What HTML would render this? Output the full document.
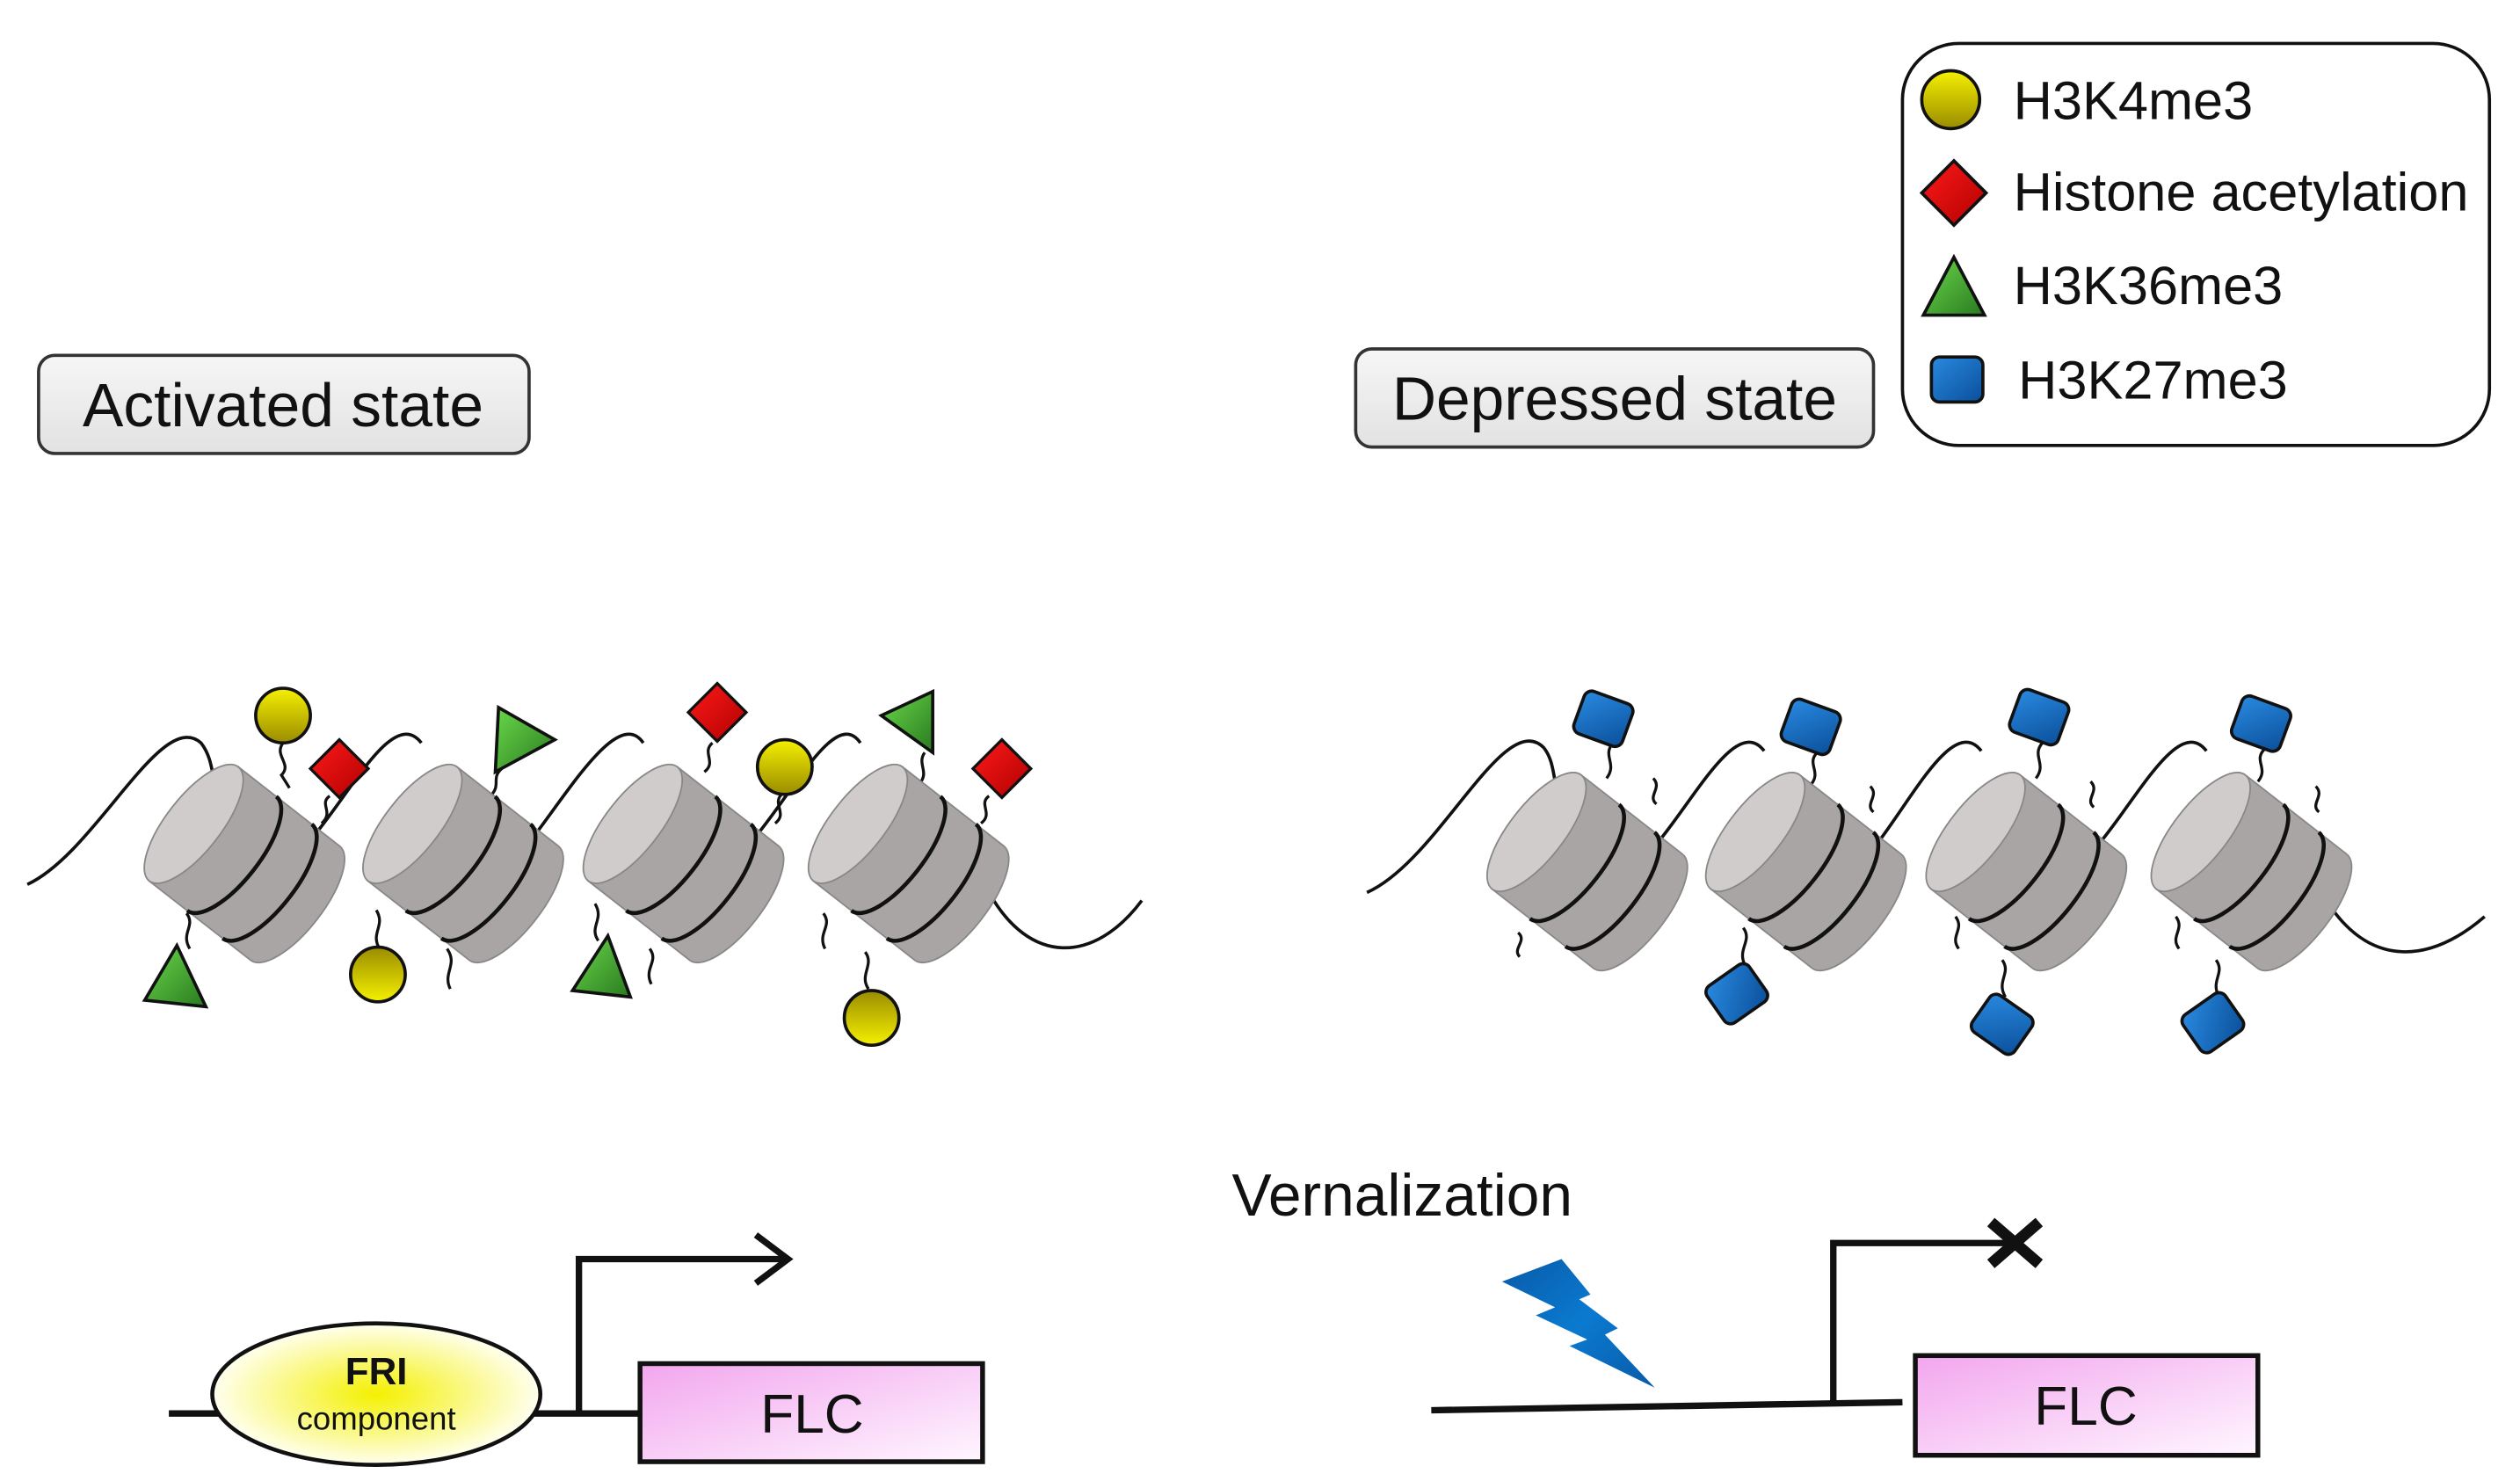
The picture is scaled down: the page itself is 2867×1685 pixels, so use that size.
<!DOCTYPE html>
<html><head><meta charset="utf-8"><style>html,body{margin:0;padding:0;background:#fff}svg{display:block}</style></head><body>
<svg width="2867" height="1685" viewBox="0 0 1567 921" preserveAspectRatio="none" xmlns="http://www.w3.org/2000/svg" font-family="Liberation Sans, Arial, sans-serif">
<defs>
<linearGradient id="lab" x1="0" y1="0" x2="0" y2="1"><stop offset="0" stop-color="#f6f6f6"/><stop offset="1" stop-color="#e2e2e2"/></linearGradient>
<linearGradient id="yel" x1="0" y1="0" x2="0" y2="1"><stop offset="0" stop-color="#f5f000"/><stop offset="1" stop-color="#9a8c00"/></linearGradient>
<linearGradient id="yel2" x1="0" y1="1" x2="0" y2="0"><stop offset="0" stop-color="#f5f000"/><stop offset="1" stop-color="#9a8c00"/></linearGradient>
<linearGradient id="red" x1="0" y1="0" x2="1" y2="1"><stop offset="0" stop-color="#ff1a1a"/><stop offset="1" stop-color="#b00000"/></linearGradient>
<linearGradient id="grn" x1="0" y1="0" x2="1" y2="1"><stop offset="0" stop-color="#6ad84a"/><stop offset="1" stop-color="#2a7a20"/></linearGradient>
<linearGradient id="blu" x1="0" y1="0" x2="1" y2="1"><stop offset="0" stop-color="#2a8ae0"/><stop offset="1" stop-color="#0a4f9a"/></linearGradient>
<radialGradient id="fri" cx="0.5" cy="0.5" r="0.5"><stop offset="0" stop-color="#f4f000"/><stop offset="1" stop-color="#fffff0"/></radialGradient>
<linearGradient id="flc" x1="0" y1="0" x2="1" y2="1"><stop offset="0" stop-color="#f2a6ee"/><stop offset="1" stop-color="#fff6ff"/></linearGradient>
<linearGradient id="bolt" x1="0" y1="0" x2="1" y2="1"><stop offset="0" stop-color="#0a5aa8"/><stop offset="0.5" stop-color="#0a7ad0"/><stop offset="1" stop-color="#0a5aa8"/></linearGradient>
<g id="cyl">
<path d="M-40,-45 L40,-45 A17 45 0 0 1 40,45 L-40,45 Z" fill="#aaa5a5" stroke="#888" stroke-width="1"/>
<ellipse cx="-40" cy="0" rx="17" ry="45" fill="#d0cccc" stroke="#888" stroke-width="1"/>
<path d="M-10,-45 A17 45 0 0 1 -10,45" fill="none" stroke="#111" stroke-width="2.5"/>
<path d="M18,-45 A17 45 0 0 1 18,45" fill="none" stroke="#111" stroke-width="2.5"/>
</g>
<rect id="bsq" x="-16" y="-14" width="32" height="28" rx="5" fill="url(#blu)" stroke="#111" stroke-width="2"/>
<path id="dia" d="M0,-20 L20,0 L0,20 L-20,0 Z" fill="url(#red)" stroke="#111" stroke-width="2"/>
</defs>

<rect x="24" y="221" width="305" height="61" rx="10" fill="url(#lab)" stroke="#333" stroke-width="2"/>
<text x="176" y="265" font-size="38" text-anchor="middle" fill="#111">Activated state</text>
<rect x="843" y="217" width="322" height="61" rx="10" fill="url(#lab)" stroke="#333" stroke-width="2"/>
<text x="1004" y="261" font-size="38" text-anchor="middle" fill="#111">Depressed state</text>

<rect x="1183" y="27" width="365" height="250" rx="35" fill="#fff" stroke="#111" stroke-width="2"/>
<ellipse cx="1213" cy="62" rx="18" ry="18" fill="url(#yel)" stroke="#111" stroke-width="2"/>
<text x="1252" y="74" font-size="33.5" fill="#111">H3K4me3</text>
<use href="#dia" x="1215" y="120"/>
<text x="1252" y="131" font-size="33.5" fill="#111">Histone acetylation</text>
<path d="M1215,160 L1234,196 L1196,196 Z" fill="url(#grn)" stroke="#111" stroke-width="2"/>
<text x="1252" y="189" font-size="33.5" fill="#111">H3K36me3</text>
<use href="#bsq" x="1217" y="236"/>
<text x="1255" y="248" font-size="33.5" fill="#111">H3K27me3</text>

<path d="M17,550 C60,530 100,440 125,462 C135,475 130,490 140,500 M195,520 C220,490 245,440 262,462 M332,520 C355,490 385,440 400,462 M470,520 C495,490 520,440 535,462 M615,555 C640,600 680,600 710,560" fill="none" stroke="#111" stroke-width="2"/>
<g fill="none" stroke="#111" stroke-width="1.8">
<path d="M176,462 C170,470 182,475 175,482 L180,490"/>
<path d="M205,495 C198,500 208,505 200,512"/>
<path d="M312,478 C305,484 312,488 305,495"/>
<path d="M443,462 C436,468 446,474 438,480"/>
<path d="M486,494 C480,500 490,506 482,512"/>
<path d="M575,468 C570,475 578,480 572,487"/>
<path d="M615,495 C608,500 618,506 610,512"/>
<path d="M118,590 C112,580 122,576 116,568"/>
<path d="M236,590 C230,580 240,576 234,566"/>
<path d="M280,615 C275,605 285,600 278,590"/>
<path d="M372,585 C366,576 376,572 370,562"/>
<path d="M405,612 C400,602 410,598 404,590"/>
<path d="M540,615 C534,606 544,600 538,592"/>
<path d="M513,590 C508,580 518,576 512,568"/>
</g>
<use href="#cyl" transform="translate(152,537) rotate(38)"/>
<use href="#cyl" transform="translate(288,537) rotate(38)"/>
<use href="#cyl" transform="translate(425,537) rotate(38)"/>
<use href="#cyl" transform="translate(565,537) rotate(38)"/>
<ellipse cx="176" cy="445" rx="17" ry="17" fill="url(#yel)" stroke="#111" stroke-width="2"/>
<use href="#dia" transform="translate(211,478) scale(0.9)"/>
<path d="M310,440 L345,460 L308,480 Z" fill="url(#grn)" stroke="#111" stroke-width="2"/>
<use href="#dia" transform="translate(446,443) scale(0.9)"/>
<ellipse cx="488" cy="477" rx="17" ry="17" fill="url(#yel)" stroke="#111" stroke-width="2"/>
<path d="M580,430 L580,468 L548,445 Z" fill="url(#grn)" stroke="#111" stroke-width="2"/>
<use href="#dia" transform="translate(623,478) scale(0.9)"/>
<path d="M110,588 L128,626 L90,622 Z" fill="url(#grn)" stroke="#111" stroke-width="2"/>
<ellipse cx="235" cy="606" rx="17" ry="17" fill="url(#yel2)" stroke="#111" stroke-width="2"/>
<path d="M378,582 L392,620 L356,616 Z" fill="url(#grn)" stroke="#111" stroke-width="2"/>
<ellipse cx="542" cy="633" rx="17" ry="17" fill="url(#yel2)" stroke="#111" stroke-width="2"/>

<path d="M850,555 C895,535 935,440 960,465 C968,475 965,490 972,500 M1030,525 C1055,495 1080,445 1097,467 M1167,525 C1190,495 1215,445 1232,467 M1305,525 C1330,495 1355,445 1372,467 M1450,565 C1475,600 1510,600 1545,570" fill="none" stroke="#111" stroke-width="2"/>
<g fill="none" stroke="#111" stroke-width="1.8">
<path d="M1003,462 C996,470 1006,475 999,484"/>
<path d="M1130,468 C1123,475 1133,480 1126,488"/>
<path d="M1270,462 C1263,470 1273,475 1266,484"/>
<path d="M1408,466 C1401,473 1411,478 1404,486"/>
<path d="M1030,500 C1024,495 1034,490 1028,484"/>
<path d="M1165,505 C1159,500 1169,495 1163,489"/>
<path d="M1302,502 C1296,497 1306,492 1300,486"/>
<path d="M1442,505 C1436,500 1446,495 1440,489"/>
<path d="M945,595 C940,590 950,585 944,580"/>
<path d="M1085,600 C1080,590 1090,585 1084,577"/>
<path d="M1247,620 C1241,610 1251,605 1245,597"/>
<path d="M1380,620 C1374,610 1384,605 1378,597"/>
<path d="M1218,590 C1212,582 1222,578 1216,570"/>
<path d="M1355,590 C1349,582 1359,578 1353,570"/>
</g>
<use href="#cyl" transform="translate(987,542) rotate(38)"/>
<use href="#cyl" transform="translate(1123,542) rotate(38)"/>
<use href="#cyl" transform="translate(1260,542) rotate(38)"/>
<use href="#cyl" transform="translate(1400,542) rotate(38)"/>
<use href="#bsq" transform="translate(997,447) rotate(20)"/>
<use href="#bsq" transform="translate(1126,452) rotate(20)"/>
<use href="#bsq" transform="translate(1268,446) rotate(20)"/>
<use href="#bsq" transform="translate(1406,450) rotate(20)"/>
<use href="#bsq" transform="translate(1080,618) rotate(-35)"/>
<use href="#bsq" transform="translate(1245,637) rotate(35)"/>
<use href="#bsq" transform="translate(1376,636) rotate(-35)"/>

<line x1="105" y1="879" x2="398" y2="879" stroke="#111" stroke-width="4"/>
<ellipse cx="234" cy="867" rx="102" ry="44" fill="url(#fri)" stroke="#111" stroke-width="2.5"/>
<text x="234" y="861" font-size="24" font-weight="bold" text-anchor="middle" fill="#111">FRI</text>
<text x="234" y="889" font-size="20" text-anchor="middle" fill="#111">component</text>
<path d="M360,879 L360,783 L487,783" fill="none" stroke="#111" stroke-width="4"/>
<path d="M470,768 L490,783 L470,798" fill="none" stroke="#111" stroke-width="4"/>
<rect x="398" y="848" width="213" height="61" fill="url(#flc)" stroke="#111" stroke-width="3"/>
<text x="505" y="891" font-size="34" text-anchor="middle" fill="#111">FLC</text>

<text x="766" y="756" font-size="37" fill="#111">Vernalization</text>
<path d="M971,783 L989,805 L982,808 L1006,826 L998,830 L1029,863 L976,837 L987,833 L955,818 L967,813 L934,797 Z" fill="url(#bolt)"/>
<path d="M890,877 L1183,872" stroke="#111" stroke-width="4"/>
<path d="M1140,873 L1140,773 L1250,773" fill="none" stroke="#111" stroke-width="4"/>
<path d="M1238,760 L1268,786 M1268,760 L1238,786" stroke="#111" stroke-width="7"/>
<rect x="1191" y="843" width="213" height="62" fill="url(#flc)" stroke="#111" stroke-width="3"/>
<text x="1297" y="886" font-size="34" text-anchor="middle" fill="#111">FLC</text>
</svg>
</body></html>
